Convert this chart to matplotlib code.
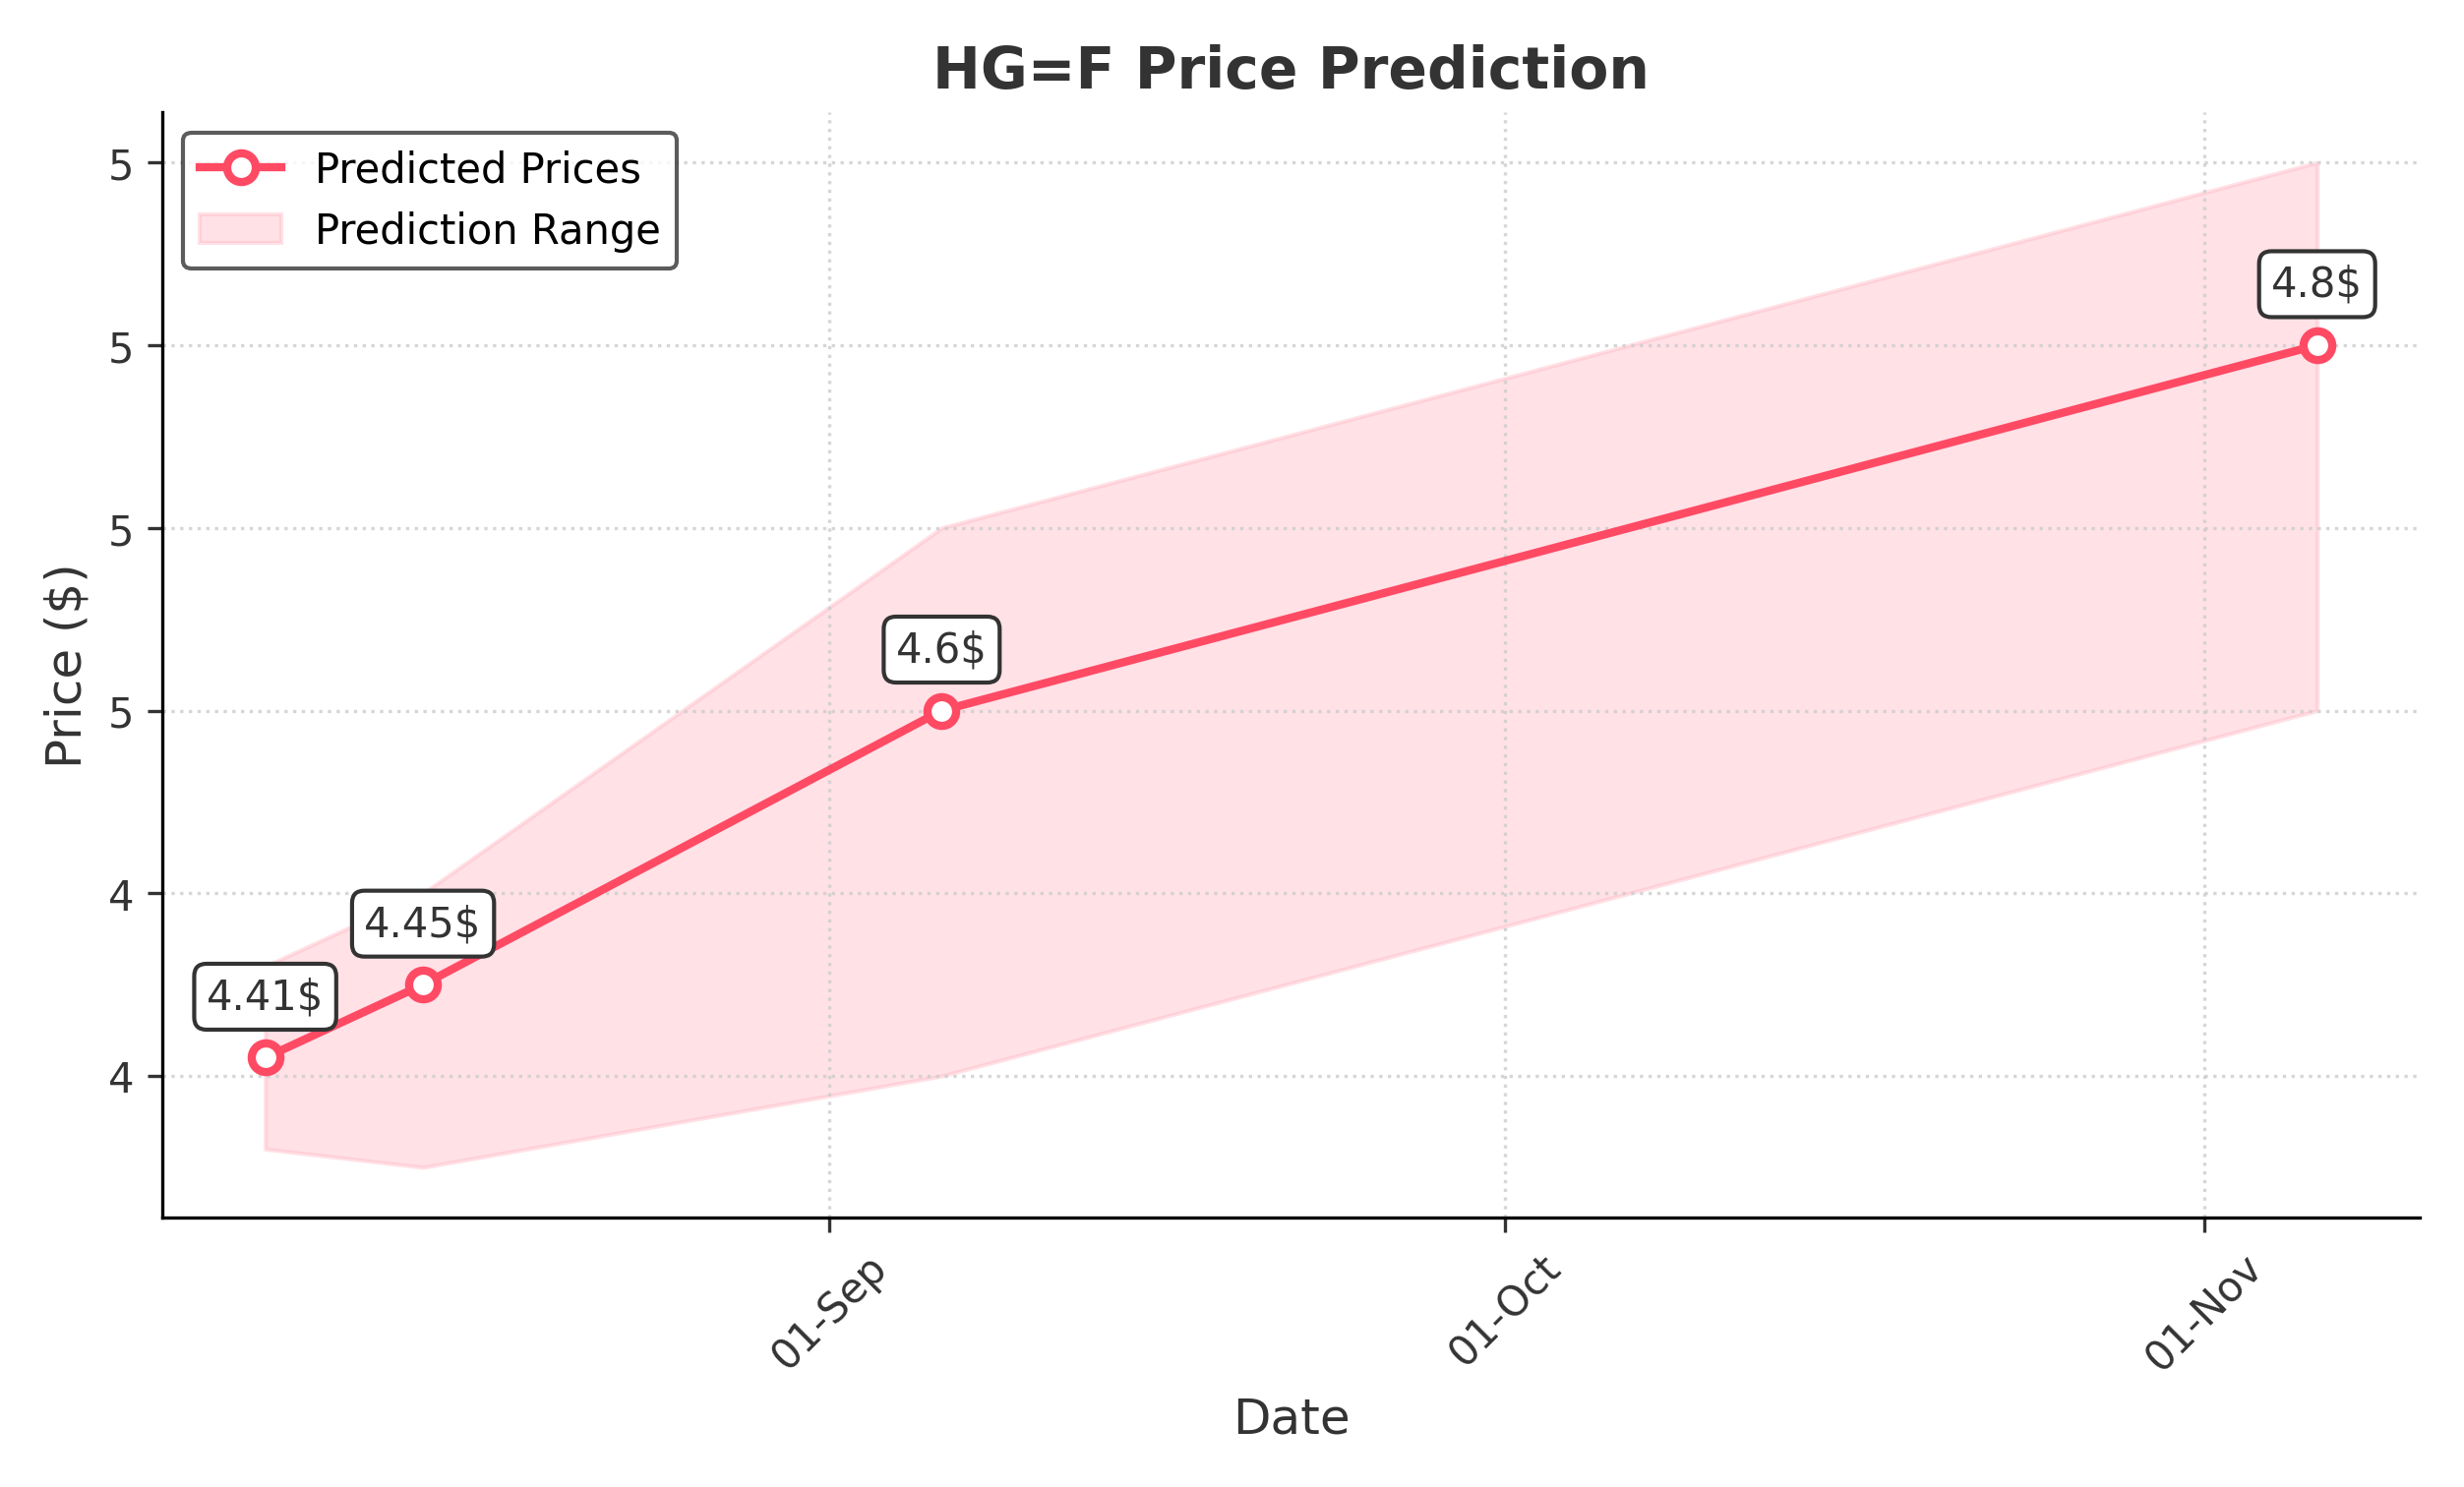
import matplotlib
matplotlib.use("Agg")
import matplotlib.pyplot as plt
import matplotlib.dates as mdates
from matplotlib.ticker import FormatStrFormatter
import pandas as pd

dates = pd.to_datetime(["2024-08-07", "2024-08-14", "2024-09-06", "2024-11-06"])
prices = [4.41, 4.45, 4.60, 4.80]
lower = [4.36, 4.35, 4.40, 4.60]
upper = [4.46, 4.50, 4.70, 4.90]
labels = ["4.41$", "4.45$", "4.6$", "4.8$"]

color = "#ff4a64"
plt.rcParams['font.family'] = ['DejaVu Sans']
fig, ax = plt.subplots(figsize=(8.35, 5.043), dpi=300)
ax.fill_between(dates, lower, upper, color="#ffb6c1", alpha=0.4, label="Prediction Range")
ax.plot(dates, prices, color=color, lw=2, marker="o", markersize=7,
        markerfacecolor="white", markeredgewidth=2, label="Predicted Prices")
for d, p, t in zip(dates, prices, labels):
    ax.annotate(t, (d, p), xytext=(0, 12), textcoords="offset points", ha="center",
                fontsize=10, color="#333333",
                bbox=dict(boxstyle="round,pad=0.3", fc="white", ec="#333333", lw=1))
ax.set_title("HG=F Price Prediction", fontsize=14, fontweight="bold", color="#333333")
ax.set_xlabel("Date", fontsize=12, color="#333333")
ax.set_ylabel("Price ($)", fontsize=12, color="#333333")
ax.xaxis.set_major_locator(mdates.MonthLocator())
ax.xaxis.set_major_formatter(mdates.DateFormatter("%d-%b"))
ax.yaxis.set_major_formatter(FormatStrFormatter("%.0f"))
plt.setp(ax.get_xticklabels(), rotation=45)
ax.tick_params(colors="#333333", labelsize=10)
ax.grid(True, linestyle=":", color="#cccccc", alpha=0.8)
for s in ["top", "right"]:
    ax.spines[s].set_visible(False)
h, l = ax.get_legend_handles_labels()
ax.legend(h[::-1], l[::-1], loc="upper left", fontsize=10, edgecolor="#333333")
fig.tight_layout()
fig.savefig("out.png", dpi=300)
